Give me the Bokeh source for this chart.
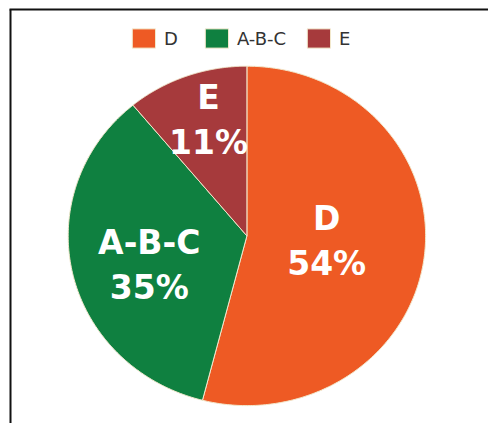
import numpy as np
from bokeh.plotting import figure
from bokeh.models import Range1d, Legend, LegendItem
from bokeh.core.properties import value
from bokeh.embed import file_html
from bokeh.resources import INLINE

categories = ["D", "A-B-C", "E"]
percents = [54, 35, 11]
pct_labels = ["54%", "35%", "11%"]
colors = ["#EE5A24", "#0F8040", "#A63A3C"]

W, H = 488, 423
p = figure(width=W, height=H, output_backend="svg", toolbar_location=None,
           x_range=Range1d(0, W), y_range=Range1d(0, H), min_border=0)
p.axis.visible = False
p.grid.visible = False
p.outline_line_color = None
p.background_fill_color = "white"
p.border_fill_color = "white"

# card border: only the left and top edges fall inside the picture
p.segment(x0=[10, 9], y0=[-5, 414], x1=[10, W + 5], y1=[414, 414],
          line_color="#111111", line_width=2)

# pie geometry (screen-like units)
cx, cy = 246.4, 187.6
rx, ry = 178.7, 169.7
label_k = [0.45, 0.56, 0.70]
nudge_x = [0, 0, 4]
nudge_y = [4, -8, 4]

fr = np.array(percents, dtype=float) / sum(percents)
ends = np.cumsum(fr) * 2 * np.pi
starts = ends - fr * 2 * np.pi

renderers = []
for i, cat in enumerate(categories):
    t = np.linspace(starts[i], ends[i], 240)
    xs = [cx] + list(cx + rx * np.sin(t))
    ys = [cy] + list(cy + ry * np.cos(t))
    r = p.patch(xs, ys, fill_color=colors[i], line_color="#f2e8cc", line_width=1)
    renderers.append(r)

for i, cat in enumerate(categories):
    mid = (starts[i] + ends[i]) / 2
    lx = cx + label_k[i] * rx * np.sin(mid) + nudge_x[i]
    ly = cy + label_k[i] * ry * np.cos(mid) + nudge_y[i]
    for txt, off in ((cat, -22.5), (pct_labels[i], 22.5)):
        p.text(x=[lx], y=[ly], text=[txt], text_align="center", text_baseline="middle",
               y_offset=off, text_color="white", text_font=value("DejaVu Sans"),
               text_font_style="bold", text_font_size="33px")

legend = Legend(items=[LegendItem(label=c, renderers=[r]) for c, r in zip(categories, renderers)],
                orientation="horizontal", location="top_center",
                glyph_width=29, glyph_height=24, label_standoff=6, spacing=18,
                padding=0, margin=26, border_line_color=None,
                background_fill_alpha=0, label_text_font="DejaVu Sans",
                label_text_font_size="18px", label_text_color="#333333")
p.add_layout(legend)

open("out.html", "w").write(file_html(p, INLINE))
